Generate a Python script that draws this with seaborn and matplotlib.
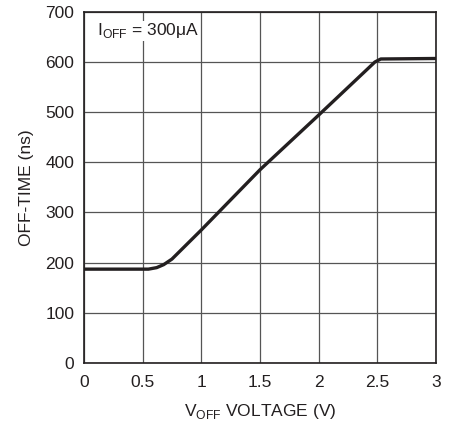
import matplotlib
matplotlib.use('Agg')
import matplotlib.pyplot as plt
import seaborn as sns
import pandas as pd

# values
voltage = [0.0, 0.55, 0.62, 0.68, 0.75, 1.0, 1.5, 2.0, 2.48, 2.53, 3.0]
off_time = [187, 187, 190, 196, 207, 265, 385, 494, 600, 606, 607]

x_ticks = [0, 0.5, 1, 1.5, 2, 2.5, 3]
x_tick_labels = ['0', '0.5', '1', '1.5', '2', '2.5', '3']
y_ticks = [0, 100, 200, 300, 400, 500, 600, 700]

sns.set_style('white')
plt.rcParams['font.family'] = ['Liberation Sans', 'DejaVu Sans']
plt.rcParams['mathtext.fontset'] = 'custom'
plt.rcParams['mathtext.rm'] = 'Liberation Sans'

df = pd.DataFrame({'voltage': voltage, 'off_time': off_time})

fig = plt.figure(figsize=(4.56, 4.23), dpi=100)
ax = fig.add_axes([0.184, 0.142, 0.772, 0.830])

sns.lineplot(data=df, x='voltage', y='off_time', ax=ax, color='#231f20',
             linewidth=2.4, zorder=3)

ax.set_xlim(0, 3)
ax.set_ylim(0, 700)
ax.set_xticks(x_ticks)
ax.set_xticklabels(x_tick_labels)
ax.set_yticks(y_ticks)
ax.grid(True, color='#555555', linewidth=0.9)
ax.tick_params(axis='both', length=0, labelsize=12.5, colors='#231f20')
ax.tick_params(axis='x', pad=9)
ax.tick_params(axis='y', pad=7)
for s in ax.spines.values():
    s.set_color('#231f20')
    s.set_linewidth(1.2)

ax.set_xlabel(r'V$_{\mathregular{OFF}}$ VOLTAGE (V)', fontsize=12.5, color='#231f20', labelpad=8)
ax.set_ylabel('OFF-TIME (ns)', fontsize=12.5, color='#231f20', labelpad=8)

ax.text(0.11, 662, r'I$_{\mathregular{OFF}}$ = 300μA', fontsize=12.5, color='#231f20',
        va='center', ha='left',
        bbox=dict(facecolor='white', edgecolor='none', pad=0.5))

fig.savefig('out.png', dpi=100)
